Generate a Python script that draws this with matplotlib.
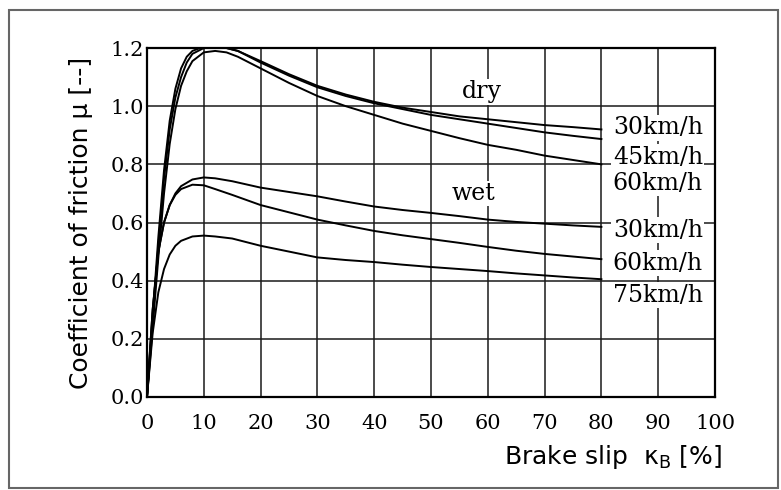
import matplotlib.pyplot as plt
from matplotlib.patches import Rectangle

slip_dry = [0, 1, 2, 3, 4, 5, 6, 7, 8, 10, 12, 14, 16, 20, 25, 30, 35, 40, 45, 50, 55, 60, 65, 70, 75, 80]
mu_dry_30 = [0, 0.28, 0.55, 0.78, 0.95, 1.06, 1.13, 1.17, 1.19, 1.205, 1.205, 1.2, 1.19, 1.155,
             1.11, 1.07, 1.04, 1.015, 0.995, 0.98, 0.965, 0.955, 0.945, 0.935, 0.928, 0.92]
mu_dry_45 = [0, 0.26, 0.52, 0.75, 0.92, 1.03, 1.1, 1.15, 1.18, 1.2, 1.205, 1.2, 1.19, 1.15,
             1.105, 1.065, 1.035, 1.01, 0.99, 0.97, 0.955, 0.94, 0.925, 0.91, 0.898, 0.887]
mu_dry_60 = [0, 0.24, 0.48, 0.7, 0.87, 0.99, 1.07, 1.12, 1.155, 1.185, 1.19, 1.185, 1.17, 1.13,
             1.08, 1.035, 1.0, 0.97, 0.94, 0.915, 0.89, 0.867, 0.85, 0.83, 0.815, 0.80]

slip_wet = [0, 1, 2, 3, 4, 5, 6, 8, 10, 12, 15, 20, 25, 30, 35, 40, 45, 50, 55, 60, 65, 70, 75, 80]
mu_wet_30 = [0, 0.3, 0.5, 0.6, 0.66, 0.7, 0.725, 0.748, 0.755, 0.752, 0.742, 0.72, 0.705, 0.69,
             0.672, 0.655, 0.643, 0.633, 0.622, 0.61, 0.602, 0.596, 0.59, 0.585]
mu_wet_60 = [0, 0.3, 0.5, 0.6, 0.66, 0.695, 0.715, 0.73, 0.728, 0.715, 0.695, 0.66, 0.635, 0.61,
             0.59, 0.571, 0.556, 0.543, 0.53, 0.516, 0.503, 0.492, 0.483, 0.474]
mu_wet_75 = [0, 0.22, 0.36, 0.44, 0.49, 0.52, 0.537, 0.552, 0.555, 0.552, 0.545, 0.52, 0.5, 0.48,
             0.471, 0.464, 0.455, 0.447, 0.44, 0.433, 0.425, 0.418, 0.411, 0.405]

labels = ['30km/h', '45km/h', '60km/h', '30km/h', '60km/h', '75km/h']
label_y = [0.925, 0.825, 0.735, 0.574, 0.46, 0.35]

xticks = list(range(0, 101, 10))
yticks = [0.0, 0.2, 0.4, 0.6, 0.8, 1.0, 1.2]

serif = 'DejaVu Serif'

fig = plt.figure(figsize=(7.81, 4.9), dpi=100)
fig.patches.append(Rectangle((0.011, 0.004), 0.985, 0.975, transform=fig.transFigure,
                             fill=False, edgecolor='#666666', lw=1.5))
ax = fig.add_axes([0.1882, 0.1898, 0.7273, 0.7122])

for y in [mu_dry_30, mu_dry_45, mu_dry_60]:
    ax.plot(slip_dry, y, color='black', lw=1.4, zorder=3)
for y in [mu_wet_30, mu_wet_60, mu_wet_75]:
    ax.plot(slip_wet, y, color='black', lw=1.4, zorder=3)

ax.set_xlim(0, 100)
ax.set_ylim(0, 1.2)
ax.set_xticks(xticks)
ax.set_yticks(yticks)
ax.set_xticklabels([str(t) for t in xticks], family=serif, fontsize=15)
ax.set_yticklabels(['%.1f' % t for t in yticks], family=serif, fontsize=15)
ax.tick_params(length=0, pad=2)
ax.tick_params(axis='x', pad=12)
ax.grid(True, color='#1a1a1a', lw=1.1)
ax.set_axisbelow(True)
for s in ax.spines.values():
    s.set_linewidth(1.6)

bb = dict(facecolor='white', edgecolor='none', pad=1)
for t, yv in zip(labels, label_y):
    ax.text(82, yv, t, family=serif, fontsize=17, va='center', ha='left', bbox=bb, zorder=4)
ax.text(59, 1.05, 'dry', family=serif, fontsize=17, ha='center', va='center', bbox=bb, zorder=4)
ax.text(57.5, 0.70, 'wet', family=serif, fontsize=17, ha='center', va='center', bbox=bb, zorder=4)

ax.set_ylabel('Coefficient of friction μ [--]', family='DejaVu Sans', fontsize=18, labelpad=13)
ax.text(1.013, -0.173, 'Brake slip  κ$_\\mathrm{B}$ [%]', transform=ax.transAxes, ha='right',
        va='center', family='DejaVu Sans', fontsize=18)

fig.savefig('out.png', dpi=100)
